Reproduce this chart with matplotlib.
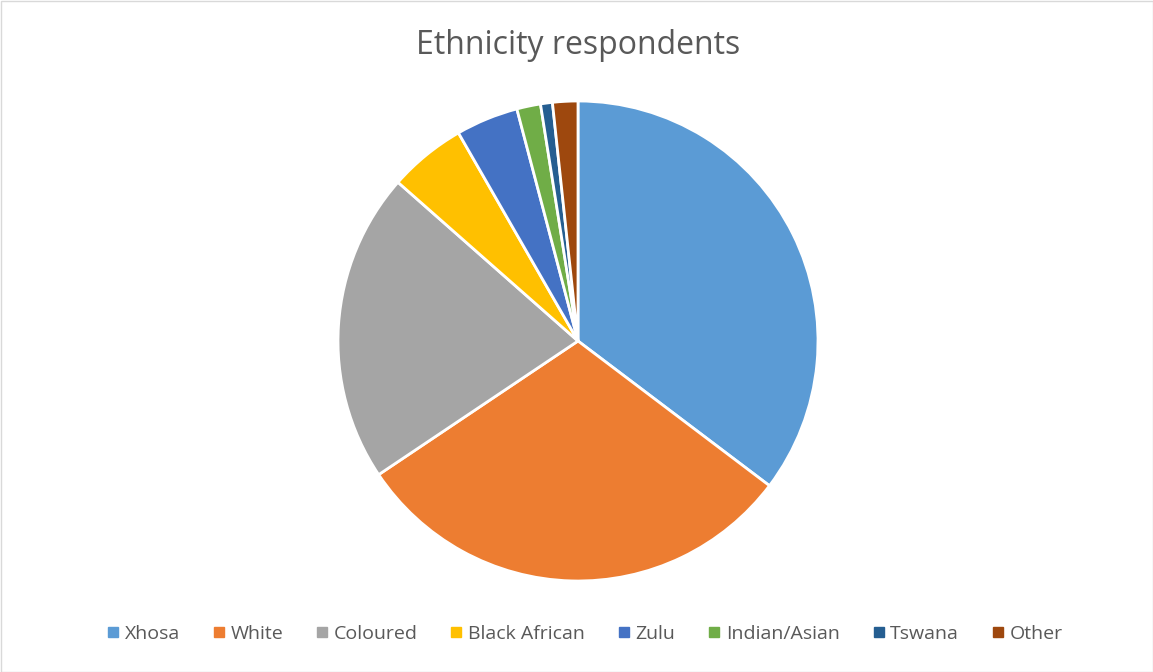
import matplotlib
matplotlib.use("Agg")
import matplotlib.pyplot as plt
from matplotlib.lines import Line2D
from matplotlib.patches import Rectangle

categories = ["Xhosa", "White", "Coloured", "Black African", "Zulu", "Indian/Asian", "Tswana", "Other"]
values = [35.3, 30.3, 20.9, 5.2, 4.2, 1.6, 0.8, 1.7]
colors = ["#5B9BD5", "#ED7D31", "#A5A5A5", "#FFC000", "#4472C4", "#70AD47", "#255E91", "#9E480E"]
title = "Ethnicity respondents"

plt.rcParams['font.family'] = ['Open Sans', 'DejaVu Sans']
W, H = 1153, 672
fig = plt.figure(figsize=(W/100, H/100), dpi=100)
fig.patch.set_facecolor("white")
fig.add_artist(Rectangle((0.5/W, 0.5/H), 1-1/W, 1-1/H, transform=fig.transFigure,
                         fill=False, edgecolor="#D9D9D9", linewidth=1))

cx, cy, r = 578, 341, 240
ax = fig.add_axes([(cx-r)/W, (H-cy-r)/H, 2*r/W, 2*r/H])
ax.pie(values, colors=colors, startangle=90, counterclock=False, radius=1,
       wedgeprops=dict(edgecolor="white", linewidth=2))
ax.set_xlim(-1, 1); ax.set_ylim(-1, 1)
ax.set_aspect("equal")
ax.axis("off")

fig.text(578/W, 1-46/H, title, ha="center", va="center", fontsize=23, color="#595959")

handles = [Line2D([], [], marker="s", linestyle="none", markersize=7,
                  markerfacecolor=c, markeredgecolor=c) for c in colors]
fig.legend(handles, categories, loc="center", bbox_to_anchor=(583/W, 1-634/H), ncol=8,
           frameon=False, fontsize=14, labelcolor="#595959", handletextpad=0.1,
           columnspacing=1.5, handlelength=1.0)

fig.savefig("out.png", dpi=100)
